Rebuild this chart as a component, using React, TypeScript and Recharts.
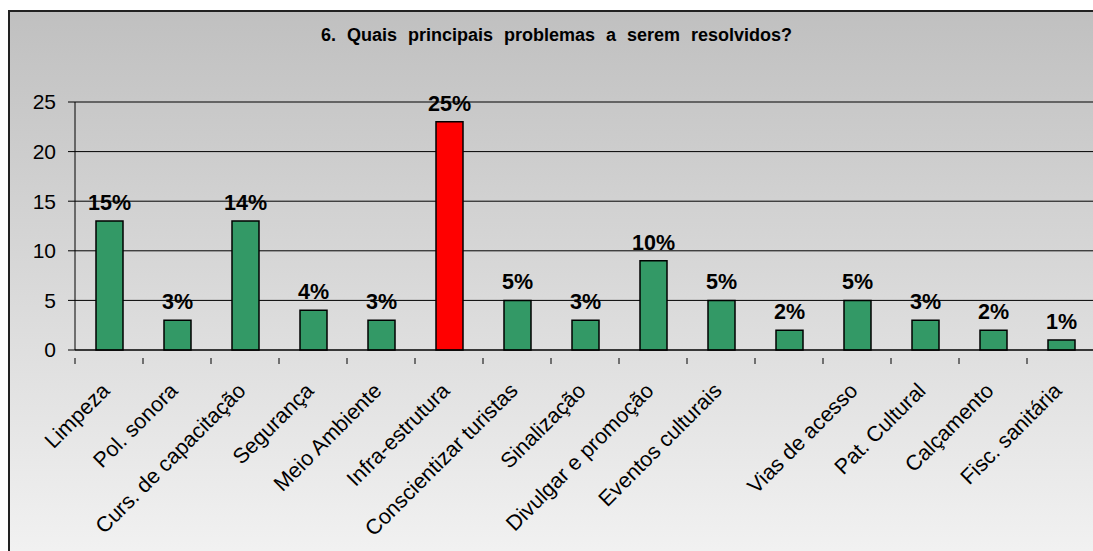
import React from "react";
import { BarChart, Bar, XAxis, YAxis, CartesianGrid, Cell, LabelList } from "recharts";

const categories = [
  "Limpeza",
  "Pol. sonora",
  "Curs. de capacitação",
  "Segurança",
  "Meio Ambiente",
  "Infra-estrutura",
  "Conscientizar turistas",
  "Sinalização",
  "Divulgar e promoção",
  "Eventos culturais",
  "",
  "Vias de acesso",
  "Pat. Cultural",
  "Calçamento",
  "Fisc. sanitária",
];
const values = [13, 3, 13, 4, 3, 23, 5, 3, 9, 5, 2, 5, 3, 2, 1];
const percentLabels = ["15%", "3%", "14%", "4%", "3%", "25%", "5%", "3%", "10%", "5%", "2%", "5%", "3%", "2%", "1%"];
const highlightIndex = 5;
const yTicks = [0, 5, 10, 15, 20, 25];
const title = "6. Quais principais problemas a serem resolvidos?";

const data = categories.map((name, i) => ({ name, value: values[i], label: percentLabels[i] }));

const FONT = "Arial, 'Liberation Sans', sans-serif";
const CHART_W = 1100;
const MARGIN = { top: 90, right: 15, left: 0, bottom: 0 };
const YAXIS_W = 65;
const BAND = (CHART_W - MARGIN.left - MARGIN.right - YAXIS_W) / categories.length;

const XTick = (props: any) => {
  const { x, y, payload } = props;
  const axisY = y;
  const left = x - BAND / 2;
  const ax = x + 2;
  const ay = axisY + 34;
  return (
    <g>
      <line x1={left} y1={axisY} x2={left} y2={axisY + 6} stroke="#000" strokeWidth={1} />
      <text
        x={ax}
        y={ay}
        textAnchor="end"
        transform={`rotate(-45, ${ax}, ${ay})`}
        fontFamily={FONT}
        fontSize={21.5}
        fill="#000"
      >
        {payload.value}
      </text>
    </g>
  );
};

export default function App() {
  return (
    <div style={{ position: "fixed", left: 0, top: 0, width: 1093, height: 551, overflow: "hidden", background: "#fff" }}>
      <div
        style={{
          position: "absolute",
          left: 8,
          top: 10,
          width: 1300,
          height: 600,
          border: "2px solid #222",
          background: "linear-gradient(to bottom, #c0c0c0 0px, #f3f3f3 560px, #f3f3f3 600px)",
        }}
      >
        <div
          style={{
            position: "absolute",
            left: 0,
            top: 13,
            width: 1093,
            textAlign: "center",
            fontFamily: FONT,
            fontWeight: "bold",
            fontSize: 18,
            wordSpacing: 6,
            color: "#000",
            whiteSpace: "nowrap",
          }}
        >
          {title}
        </div>
        <div style={{ position: "absolute", left: 0, top: 0 }}>
          <BarChart width={CHART_W} height={540} data={data} margin={MARGIN}>
            <CartesianGrid vertical={false} stroke="#000" strokeWidth={1} />
            <XAxis
              dataKey="name"
              interval={0}
              tickLine={false}
              axisLine={{ stroke: "#000" }}
              height={202}
              tick={<XTick />}
            />
            <YAxis
              domain={[0, 25]}
              ticks={yTicks}
              width={YAXIS_W}
              tickSize={7}
              tickMargin={12}
              axisLine={{ stroke: "#000" }}
              tickLine={{ stroke: "#000" }}
              tick={{ fill: "#000", fontSize: 21, fontFamily: FONT }}
            />
            <Bar dataKey="value" isAnimationActive={false} barSize={27} stroke="#000" strokeWidth={1.5}>
              {data.map((d, i) => (
                <Cell key={i} fill={i === highlightIndex ? "#ff0000" : "#339966"} />
              ))}
              <LabelList
                dataKey="label"
                position="top"
                offset={11}
                fill="#000"
                fontSize={21.5}
                fontWeight="bold"
                fontFamily={FONT}
              />
            </Bar>
          </BarChart>
        </div>
      </div>
    </div>
  );
}
